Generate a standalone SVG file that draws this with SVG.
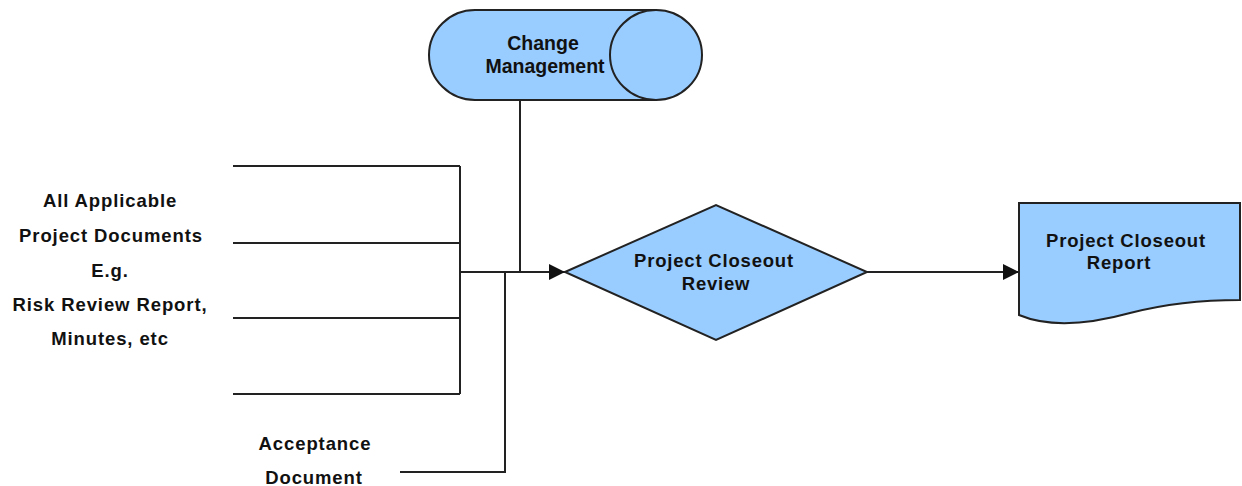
<svg xmlns="http://www.w3.org/2000/svg" width="1242" height="486" viewBox="0 0 1242 486">
<style>
.shape{fill:#99CCFF;stroke:#222;stroke-width:2}
.line{fill:none;stroke:#222;stroke-width:2}
.t{font-family:"Liberation Sans",Arial,sans-serif;font-weight:bold;fill:#111;text-anchor:middle}
.s17{font-size:18.5px;letter-spacing:0.9px}
.s18{font-size:18.5px;letter-spacing:0.8px}
.s19{font-size:19.5px}
</style>
<defs>
<marker id="arr" markerWidth="16" markerHeight="16" refX="16" refY="8" orient="auto" markerUnits="userSpaceOnUse">
<path d="M0 0 L16 8 L0 16 Z" fill="#111"/>
</marker>
</defs>
<g id="connectors">
<path class="line" d="M233 166 H460 M233 243 H460 M233 318 H460 M233 394 H460 M460 166 V394"/>
<path class="line" d="M520 100 V272"/>
<path class="line" d="M400 472 H505 V272"/>
<path class="line" d="M460 272 H565" marker-end="url(#arr)"/>
<path class="line" d="M867 272 H1019" marker-end="url(#arr)"/>
</g>
<g id="change-management">
<path class="shape" d="M475 10 H656 A46 45 0 0 1 656 100 H475 A46 45 0 0 1 475 10 Z"/>
<path class="line" d="M656 10 A46 45 0 0 0 656 100"/>
<text class="t s19" x="543" y="50">Change</text>
<text class="t s19" x="545" y="73">Management</text>
</g>
<g id="inputs">
<text class="t s17" x="110" y="207">All Applicable</text>
<text class="t s17" x="111" y="242">Project Documents</text>
<text class="t s17" x="110" y="277">E.g.</text>
<text class="t s17" x="110" y="311">Risk Review Report,</text>
<text class="t s17" x="110" y="345">Minutes, etc</text>
</g>
<g id="acceptance">
<text class="t s17" x="315" y="450">Acceptance</text>
<text class="t s17" x="314" y="484">Document</text>
</g>
<g id="closeout-review">
<path class="shape" d="M565 272 L716 205 L867 272 L716 340 Z"/>
<text class="t s18" x="714" y="267">Project Closeout</text>
<text class="t s18" x="716" y="290">Review</text>
</g>
<g id="closeout-report">
<path class="shape" d="M1019 203 H1240 V300 C1200 300 1165 304 1130 313 C1090 324 1050 328 1019 315 Z"/>
<text class="t s18" x="1126" y="247">Project Closeout</text>
<text class="t s18" x="1119" y="269">Report</text>
</g>
</svg>
